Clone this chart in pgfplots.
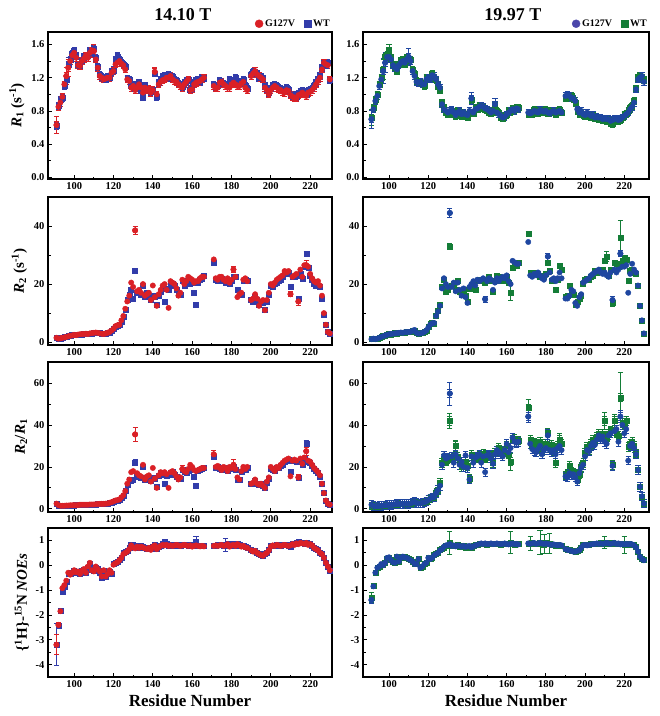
\documentclass[border=0pt]{standalone}
\usepackage{fontspec}
\setmainfont{Liberation Serif}
\usepackage{pgfplots}
\usepackage{pgfplotstable}
\pgfplotsset{compat=1.18}

\definecolor{cred}{RGB}{218,32,38}
\definecolor{cblueL}{RGB}{50,60,170}
\definecolor{cblueR}{RGB}{30,70,160}
\definecolor{cpurp}{RGB}{75,70,170}
\definecolor{cgreen}{RGB}{20,125,55}

% 14.10 T: a=R1, b=R2, c=R2/R1, d=NOE ; 1=G127V, 2=WT
\pgfplotstableread{
r a1 a2 b1 b2 c1 c2 d1 d2
91 0.63 0.62 1.5 1.6 2.5 2.4 -3.2 -3.2
92 0.85 0.86 1.2 1.3 1.8 1.7 -2.4 -2.45
93 0.90 0.93 1.3 1.2 1.5 1.5 -1.85 -1.85
94 0.97 0.96 1.5 1.4 1.5 1.5 -0.92 -1.08
95 1.12 1.10 1.6 1.7 1.5 1.6 -0.80 -0.85
96 1.22 1.18 1.8 1.7 1.6 1.6 -0.62 -0.65
97 1.32 1.36 2.0 2.1 1.6 1.6 -0.30 -0.32
98 1.40 1.42 2.2 2.1 1.7 1.6 -0.38 -0.35
99 1.47 1.49 2.3 2.4 1.7 1.7 -0.30 -0.28
100 1.50 1.53 2.5 2.4 1.8 1.7 -0.20 -0.22
101 1.44 1.46 2.4 2.5 1.7 1.8 -0.28 -0.25
102 1.35 1.36 2.6 2.5 1.8 1.8 -0.25 -0.30
103 1.34 1.35 2.7 2.6 2.0 1.9 -0.35 -0.33
104 1.40 1.41 2.8 2.7 2.0 2.0 -0.22 -0.20
105 1.43 1.45 2.8 2.9 2.0 2.0 -0.15 -0.17
106 1.47 1.46 2.9 2.8 2.0 2.0 -0.30 -0.28
107 1.44 1.47 2.8 2.9 2.0 1.9 -0.05 -0.08
108 1.50 1.52 3.0 2.9 2.1 2.0 0.10 0.05
109 1.53 1.50 3.1 3.0 2.1 2.1 -0.20 -0.18
110 1.52 1.55 3.2 3.1 2.1 2.1 -0.25 -0.22
111 1.42 1.44 3.3 3.2 2.2 2.2 -0.05 -0.08
112 1.32 1.33 3.2 3.3 2.3 2.3 -0.15 -0.12
113 1.22 1.24 3.0 3.1 2.4 2.4 -0.25 -0.28
114 1.20 1.21 2.9 2.8 2.4 2.4 -0.45 -0.50
115 1.18 1.19 2.8 2.9 2.4 2.4 -0.20 -0.22
116 1.19 1.18 3.0 2.9 2.5 2.5 -0.45 -0.48
117 1.20 1.21 3.2 3.1 2.6 2.6 -0.35 -0.30
118 1.20 1.20 3.5 3.4 2.9 2.8 -0.20 -0.25
119 1.26 1.27 4.0 3.9 3.2 3.1 -0.30 -0.33
120 1.28 1.29 4.6 4.5 3.6 3.5 0.02 0.05
121 1.36 1.42 5.5 5.4 4.0 3.8 0.08 0.10
122 1.38 1.45 5.8 5.6 4.2 3.9 0.12 0.15
123 1.40 1.42 6.0 5.9 4.5 4.2 0.20 0.22
124 1.37 1.38 7.5 7.2 5.5 5.2 0.30 0.32
125 1.35 1.36 9.0 8.8 6.5 6.5 0.45 0.50
126 1.30 1.33 11.5 11.3 8.5 8.5 0.50 0.55
127 1.18 1.19 14.0 14.5 12.0 11.5 0.55 0.60
128 1.16 1.18 16.0 16.2 14.0 14.0 0.65 0.70
129 1.08 1.10 20.5 18.0 17.5 13.5 0.80 0.82
130 1.10 1.12 19.0 15.0 18.0 14.0 0.72 0.78
131 1.05 1.07 38.5 24.5 35.5 22.0 0.68 0.80
132 1.08 1.10 17.5 17.0 17.0 16.5 0.75 0.78
133 1.12 1.14 18.0 17.5 16.0 15.5 0.70 0.72
134 1.08 1.05 17.0 16.5 15.5 15.0 0.75 0.78
135 1.02 0.97 20.0 19.5 21.0 20.0 0.72 0.74
136 1.08 1.10 16.0 15.5 14.0 14.0 0.68 0.70
137 1.05 1.06 16.5 17.0 15.5 15.0 0.65 0.68
138 1.07 1.05 17.0 16.0 16.0 15.0 0.70 0.72
139 1.02 1.03 14.5 14.5 13.0 13.5 0.62 0.65
140 1.05 1.06 19.5 16.0 19.5 15.0 0.75 0.76
141 1.27 1.25 15.5 15.5 14.5 14.5 0.80 0.82
142 1.00 0.97 12.5 13.0 10.0 10.5 0.65 0.68
143 1.12 1.14 16.5 16.0 16.0 16.0 0.72 0.75
144 1.15 1.18 18.0 17.5 17.5 17.0 0.78 0.80
145 1.17 1.21 19.5 18.5 17.0 16.5 0.82 0.85
146 1.18 1.22 20.0 14.0 17.5 12.0 0.80 0.95
147 1.20 1.21 18.0 18.5 16.5 16.0 0.82 0.85
148 1.20 1.23 11.8 18.0 10.0 16.5 0.78 0.80
149 1.22 1.19 21.0 20.5 17.5 17.0 0.80 0.82
150 1.18 1.21 20.5 20.0 18.0 17.5 0.78 0.80
151 1.16 1.18 20.0 19.5 17.0 16.5 0.80 0.80
152 1.15 1.16 18.5 18.0 15.5 15.5 0.82 0.83
153 1.12 1.13 16.0 16.5 14.0 14.5 0.80 0.82
154 1.10 1.12 17.0 16.5 15.0 14.5 0.78 0.80
155 1.08 1.09 21.5 21.0 19.0 18.5 0.80 0.82
156 1.12 1.14 20.0 19.5 18.0 17.5 0.82 0.84
157 1.15 1.16 21.0 20.5 17.5 17.0 0.80 0.82
158 1.18 1.17 22.5 21.5 19.0 18.0 0.78 0.80
159 1.05 1.06 22.0 20.0 21.0 18.5 0.80 0.82
160 1.06 1.08 21.5 20.5 20.0 19.0 0.75 0.78
161 1.12 1.14 20.5 17.0 18.5 15.5 0.78 0.80
162 1.14 1.16 21.0 13.0 18.0 11.0 0.80 0.95
163 1.15 1.18 21.0 20.5 18.5 18.0 0.78 0.80
164 1.16 1.15 22.0 21.5 19.0 18.5 0.76 0.78
165 1.18 1.20 22.5 22.0 19.5 19.0 0.78 0.80
166 1.20 1.19 22.5 23.0 19.5 19.5 0.76 0.78
171 1.10 1.12 28.5 27.5 26.0 25.0 0.78 0.80
172 1.07 1.09 22.0 21.5 20.0 19.5 0.80 0.80
173 1.08 1.10 21.5 21.0 20.5 20.0 0.78 0.82
174 1.14 1.16 22.5 22.0 19.5 19.0 0.80 0.82
175 1.15 1.14 22.5 22.0 18.5 18.5 0.82 0.84
176 1.12 1.13 21.5 21.0 20.0 19.5 0.78 0.80
177 1.10 1.12 21.0 20.5 19.5 19.0 0.80 0.82
178 1.08 1.10 22.0 21.0 18.0 18.0 0.85 0.86
179 1.08 1.18 20.5 20.0 20.0 19.5 0.75 0.78
180 1.12 1.14 21.5 21.0 19.5 19.0 0.80 0.82
181 1.14 1.16 25.0 22.5 21.0 20.0 0.82 0.85
182 1.12 1.20 22.5 22.5 19.0 18.5 0.78 0.80
183 1.10 1.12 15.5 18.0 15.0 14.0 0.85 0.86
184 1.10 1.13 16.5 16.5 14.0 14.0 0.80 0.82
185 1.13 1.15 17.0 16.5 18.0 17.5 0.75 0.78
186 1.15 1.18 21.5 21.0 20.0 19.5 0.78 0.80
187 1.08 1.10 22.0 21.5 19.0 18.5 0.72 0.75
188 1.05 1.07 21.0 21.0 20.0 19.5 0.70 0.72
190 1.22 1.24 14.5 14.5 12.0 12.0 0.60 0.62
191 1.25 1.27 15.0 14.0 12.5 12.0 0.55 0.58
192 1.28 1.26 16.5 15.5 14.0 13.5 0.58 0.60
193 1.24 1.25 15.0 14.5 12.0 12.0 0.50 0.52
194 1.22 1.20 12.5 13.0 11.5 11.5 0.45 0.48
195 1.20 1.21 14.0 13.5 12.0 12.0 0.40 0.42
196 1.18 1.19 14.5 13.5 11.0 11.0 0.38 0.40
197 1.08 1.10 11.0 11.0 10.0 10.0 0.45 0.48
198 1.05 1.06 14.5 14.0 13.0 12.5 0.50 0.52
199 1.00 1.02 17.0 16.5 15.0 14.5 0.60 0.62
200 1.05 1.07 20.0 19.5 20.0 19.0 0.75 0.78
201 1.08 1.10 19.5 19.0 19.0 18.5 0.80 0.80
202 1.10 1.12 20.5 20.0 18.0 18.0 0.78 0.80
203 1.08 1.10 21.5 20.5 20.0 19.5 0.82 0.84
204 1.06 1.08 22.0 21.0 19.5 19.5 0.80 0.82
205 1.05 1.07 22.5 21.5 21.0 20.5 0.78 0.80
206 1.03 1.05 23.0 22.5 22.0 21.0 0.80 0.82
207 1.02 1.04 24.5 24.0 23.0 22.5 0.82 0.84
208 1.05 1.08 24.0 23.5 23.5 23.0 0.80 0.82
209 1.04 1.06 24.5 24.0 24.0 23.5 0.78 0.80
210 0.99 1.00 16.5 19.0 15.5 17.5 0.80 0.75
211 0.97 0.98 22.5 22.5 23.0 23.0 0.85 0.86
212 0.96 0.99 23.0 22.5 23.5 23.0 0.82 0.85
213 0.95 0.97 23.5 23.0 23.0 22.5 0.88 0.90
214 0.99 1.01 14.0 15.0 15.0 15.0 0.85 0.95
215 1.00 1.03 25.0 23.5 24.0 23.5 0.90 0.92
216 1.02 1.04 22.5 22.0 21.5 21.0 0.88 0.90
217 1.00 1.02 26.5 26.0 24.5 24.0 0.86 0.88
218 0.98 1.00 26.5 30.5 27.5 31.0 0.90 0.90
219 1.02 1.04 26.0 25.5 23.0 22.5 0.82 0.85
220 1.03 1.06 23.5 23.0 22.5 22.0 0.85 0.88
221 1.05 1.07 22.0 21.5 21.0 20.5 0.80 0.78
222 1.08 1.10 21.0 20.0 19.5 19.0 0.70 0.72
223 1.12 1.14 20.5 19.5 18.5 18.0 0.65 0.68
224 1.16 1.18 21.0 19.5 17.5 17.0 0.60 0.62
225 1.20 1.22 19.5 19.0 16.0 15.5 0.50 0.52
226 1.30 1.32 16.0 15.0 12.0 12.0 0.45 0.45
227 1.38 1.37 10.0 9.5 7.5 7.5 0.30 0.30
228 1.36 1.35 6.0 6.0 4.0 4.0 0.10 0.10
229 1.35 1.38 3.5 3.5 2.5 2.5 -0.05 -0.05
230 1.18 1.17 3.0 3.0 2.0 2.0 -0.20 -0.20
}\tabL

% 19.97 T: e=R1, f=R2, g=R2/R1, h=NOE ; 1=G127V, 2=WT
\pgfplotstableread{
r e1 e2 f1 f2 g1 g2 h1 h2
91 0.70 0.72 1.0 1.2 2.0 1.8 -1.40 -1.30
92 0.82 0.84 1.2 1.1 1.5 1.6 -0.85 -0.82
93 0.92 0.93 1.0 1.1 1.2 1.3 -0.30 -0.28
94 0.98 1.00 1.2 1.3 1.3 1.2 -0.10 -0.08
95 1.10 1.12 1.5 1.6 1.4 1.5 -0.05 -0.05
96 1.18 1.20 1.8 1.9 1.5 1.6 0.05 0.04
97 1.28 1.30 2.0 2.1 1.6 1.6 0.00 0.02
98 1.38 1.45 2.3 2.2 1.7 1.6 0.10 0.12
99 1.45 1.48 2.5 2.6 1.8 1.8 0.30 0.28
100 1.45 1.52 2.7 2.8 2.0 1.9 0.32 0.30
101 1.42 1.44 2.8 2.7 1.9 2.0 0.20 0.22
102 1.35 1.36 2.9 3.0 2.0 2.1 0.12 0.14
103 1.32 1.33 3.0 3.1 2.2 2.2 0.10 0.12
104 1.30 1.28 3.1 3.0 2.3 2.2 0.35 0.33
105 1.35 1.36 3.2 3.3 2.3 2.4 0.15 0.16
106 1.38 1.40 3.3 3.4 2.4 2.3 0.30 0.32
107 1.40 1.42 3.2 3.3 2.3 2.4 0.35 0.36
108 1.38 1.36 3.4 3.3 2.5 2.4 0.32 0.33
109 1.42 1.44 3.5 3.6 2.5 2.6 0.30 0.30
110 1.45 1.40 3.5 3.5 2.4 2.5 0.25 0.26
111 1.40 1.42 3.6 3.7 2.6 2.6 0.20 0.22
112 1.28 1.30 3.9 3.8 3.0 2.9 0.15 0.16
113 1.22 1.25 4.2 4.0 3.4 3.3 0.05 0.06
114 1.15 1.16 3.2 3.3 2.8 2.9 0.05 0.07
115 1.14 1.15 2.9 3.0 2.6 2.7 0.25 0.26
116 1.15 1.14 3.0 3.1 2.6 2.7 -0.10 -0.08
117 1.12 1.13 3.2 3.4 2.9 2.9 -0.05 -0.04
118 1.12 1.10 3.5 3.6 3.1 3.2 0.05 0.06
119 1.18 1.20 4.0 4.1 3.5 3.6 0.10 0.12
120 1.20 1.19 5.0 5.2 4.2 4.3 0.30 0.32
121 1.18 1.20 6.0 6.2 5.0 5.1 0.25 0.27
122 1.23 1.25 6.5 6.6 5.5 5.4 0.30 0.32
123 1.22 1.20 6.6 6.5 5.6 5.5 0.40 0.42
124 1.18 1.17 9.0 9.2 7.5 7.8 0.45 0.47
125 1.12 1.10 10.5 10.8 9.0 9.2 0.50 0.52
126 1.08 1.05 12.5 13.0 11.0 12.5 0.60 0.62
127 0.88 0.90 18.5 19.0 21.0 22.0 0.65 0.68
128 0.82 0.84 22.0 21.5 25.5 24.0 0.75 0.72
129 0.80 0.78 20.0 17.5 24.0 22.5 0.80 0.78
130 0.78 0.76 19.0 18.0 24.5 23.5 0.82 0.80
131 0.80 0.78 44.5 33.0 55.0 42.0 0.85 0.90
132 0.82 0.80 19.0 19.5 25.0 24.0 0.78 0.80
133 0.78 0.76 20.5 20.0 22.0 24.5 0.80 0.78
134 0.75 0.74 17.5 18.0 26.0 30.0 0.76 0.78
135 0.78 0.80 20.5 21.0 24.0 25.0 0.80 0.82
136 0.80 0.79 18.0 17.5 21.0 22.5 0.78 0.76
137 0.76 0.74 16.0 16.5 22.5 20.0 0.75 0.74
138 0.78 0.77 18.5 18.0 20.0 21.0 0.78 0.80
139 0.76 0.74 15.5 16.0 25.5 22.5 0.74 0.72
140 0.75 0.72 13.5 14.0 19.5 20.5 0.76 0.74
141 0.80 0.78 19.0 18.5 14.0 14.5 0.78 0.76
142 0.95 0.93 20.0 19.5 25.0 26.0 0.72 0.70
143 0.78 0.77 21.0 20.5 22.0 23.5 0.76 0.78
144 0.82 0.84 19.5 18.0 24.5 25.0 0.80 0.82
145 0.83 0.82 21.5 21.0 25.0 24.0 0.82 0.84
146 0.85 0.86 21.0 21.5 26.0 25.5 0.85 0.86
147 0.86 0.85 21.5 21.0 22.0 24.0 0.88 0.86
148 0.85 0.84 22.0 21.5 25.0 26.5 0.86 0.88
149 0.83 0.82 14.8 20.5 17.5 24.0 0.88 0.86
150 0.82 0.81 21.0 21.5 25.5 26.0 0.85 0.84
151 0.80 0.79 22.0 22.5 26.0 25.0 0.86 0.88
152 0.78 0.77 21.5 21.0 24.0 25.5 0.88 0.86
153 0.80 0.78 18.0 17.5 21.5 22.0 0.85 0.86
154 0.88 0.86 20.5 21.0 26.0 27.0 0.86 0.88
155 0.78 0.80 22.0 23.0 28.0 27.0 0.88 0.86
156 0.76 0.78 21.0 22.5 27.0 29.0 0.86 0.88
157 0.74 0.72 22.0 21.0 26.0 28.0 0.85 0.84
158 0.72 0.71 22.5 21.5 25.0 27.5 0.86 0.88
159 0.73 0.74 22.0 21.0 28.0 27.0 0.88 0.86
160 0.76 0.75 23.0 22.5 31.0 30.0 0.85 0.86
161 0.78 0.80 21.0 20.5 27.0 26.0 0.84 0.88
162 0.80 0.79 20.0 17.0 29.0 22.5 0.86 0.92
163 0.82 0.83 28.0 25.5 34.0 33.0 0.88 0.86
164 0.80 0.81 27.5 27.0 32.0 33.5 0.85 0.84
165 0.83 0.84 27.0 26.5 31.5 32.0 0.86 0.85
166 0.82 0.84 27.0 27.5 32.0 32.5 0.84 0.86
171 0.78 0.76 34.5 37.5 44.0 48.0 0.88 0.86
172 0.77 0.78 23.0 24.0 31.0 33.0 0.86 0.88
173 0.78 0.76 22.5 23.5 28.5 30.0 0.88 0.90
174 0.80 0.82 23.5 24.0 27.5 31.5 0.90 0.88
175 0.79 0.78 23.0 24.0 27.0 30.0 0.86 0.88
176 0.78 0.77 24.0 23.5 28.5 31.0 0.88 0.86
177 0.81 0.82 23.0 22.5 30.0 32.0 0.90 0.92
178 0.80 0.80 22.0 23.0 26.0 27.5 0.88 0.86
179 0.79 0.78 21.5 22.5 28.0 30.0 0.86 0.84
180 0.80 0.82 23.0 23.5 29.0 31.0 0.88 0.90
181 0.78 0.77 29.5 27.5 35.0 36.5 0.86 0.88
182 0.77 0.78 24.0 24.5 28.0 29.0 0.84 0.86
183 0.79 0.80 21.5 21.0 27.0 30.5 0.82 0.84
184 0.80 0.79 22.0 21.5 28.0 27.5 0.84 0.82
185 0.78 0.76 21.0 18.0 26.0 22.0 0.82 0.80
186 0.79 0.80 22.0 21.5 29.0 30.0 0.80 0.82
187 0.80 0.82 24.0 26.5 30.0 33.0 0.82 0.80
188 0.78 0.78 22.0 25.0 28.0 31.0 0.80 0.78
190 0.98 0.96 15.0 15.5 15.5 16.0 0.65 0.66
191 1.00 0.98 15.0 16.0 15.0 17.0 0.62 0.64
192 0.98 0.96 16.0 19.5 17.0 20.5 0.60 0.62
193 0.96 0.98 18.0 17.5 16.0 18.0 0.58 0.60
194 0.95 0.94 17.5 16.5 16.5 17.5 0.55 0.57
195 0.92 0.90 13.5 13.0 15.0 16.0 0.55 0.56
196 0.82 0.80 12.5 14.0 13.0 14.0 0.58 0.60
197 0.78 0.76 15.5 15.0 17.0 16.5 0.60 0.62
198 0.80 0.78 16.5 16.0 19.5 20.0 0.70 0.72
199 0.76 0.75 20.5 20.0 21.0 22.0 0.80 0.82
200 0.75 0.74 21.0 21.5 25.0 27.0 0.82 0.84
201 0.78 0.76 21.5 22.0 28.0 29.5 0.80 0.82
202 0.76 0.75 22.0 21.5 27.5 28.0 0.82 0.84
203 0.74 0.73 23.0 22.5 30.0 31.0 0.84 0.86
204 0.75 0.74 23.5 23.0 31.5 33.0 0.85 0.86
205 0.72 0.71 24.0 24.5 30.5 32.0 0.86 0.88
206 0.73 0.72 24.5 24.0 33.0 34.5 0.88 0.86
207 0.72 0.70 25.0 24.5 35.0 36.0 0.86 0.88
208 0.72 0.71 24.0 24.5 33.0 34.0 0.88 0.90
209 0.70 0.69 23.5 25.0 34.5 36.0 0.86 0.88
210 0.71 0.70 24.0 28.0 32.0 42.0 0.88 0.92
211 0.70 0.68 23.0 29.5 31.0 33.5 0.90 0.88
212 0.70 0.69 22.5 23.0 35.0 36.0 0.88 0.90
213 0.68 0.65 24.0 25.0 36.0 37.5 0.86 0.88
214 0.69 0.64 14.5 13.5 20.5 21.0 0.88 0.90
215 0.70 0.68 25.0 27.5 37.0 42.0 0.90 0.88
216 0.71 0.70 24.0 27.0 38.0 36.0 0.86 0.88
217 0.69 0.68 25.0 26.0 32.0 35.0 0.88 0.86
218 0.70 0.69 30.5 36.0 44.0 53.0 0.84 0.86
219 0.72 0.72 26.0 28.0 40.0 41.0 0.86 0.88
220 0.74 0.75 26.0 29.0 36.0 39.0 0.84 0.82
221 0.76 0.77 26.5 28.5 38.0 42.0 0.86 0.88
222 0.78 0.80 17.0 21.0 23.0 29.5 0.84 0.86
223 0.82 0.84 23.5 24.5 30.0 31.0 0.86 0.84
224 0.85 0.86 27.0 25.0 31.0 32.0 0.84 0.82
225 0.90 0.92 25.0 24.0 29.0 30.0 0.80 0.82
226 1.06 1.07 24.0 23.5 26.0 26.5 0.72 0.74
227 1.18 1.20 19.5 19.5 18.5 18.5 0.55 0.56
228 1.20 1.22 12.5 12.5 10.5 10.5 0.35 0.36
229 1.22 1.20 7.5 7.5 6.0 6.0 0.25 0.26
230 1.15 1.17 3.0 3.0 2.5 2.5 0.20 0.22
}\tabR

\pgfplotsset{
  panel/.style={
    scale only axis, anchor=north west,
    xmin=86.7, xtick={100,120,...,220}, minor x tick num=1,
    tick align=inside, xtick pos=bottom, ytick pos=left,
    axis line style={line width=1.2pt},
    every tick/.style={black, line width=0.8pt},
    major tick length=4pt, minor tick length=2.5pt,
    tick label style={font=\bfseries\fontsize{10.5}{12}\selectfont},
    /pgf/number format/assume math mode=true,
    ylabel style={font=\bfseries\fontsize{15}{17}\selectfont},
    xlabel style={font=\bfseries\fontsize{17}{19}\selectfont},
    legend style={at={(1,1)}, anchor=south east, draw=none, fill=none,
      legend columns=2, inner sep=0pt, yshift=2pt,
      font=\bfseries\fontsize{10}{11}\selectfont,
      /tikz/every even column/.append style={column sep=7pt}},
  },
  pL/.style={panel, width=284pt, xmax=231.1},
  pR/.style={panel, width=286pt, xmax=232.6},
  sty/.style 2 args={only marks, mark=#1, color=#2, forget plot},
  gsL/.style={sty={*}{cred}, mark size=2.7pt},
  wsL/.style={sty={square*}{cblueL}, mark size=2.5pt},
  gsR/.style={sty={*}{cblueR}, mark size=2.7pt},
  wsR/.style={sty={square*}{cgreen}, mark size=2.5pt},
  ebc/.style={error bars/y dir=both,
    error bars/error bar style={line width=0.8pt},
    error bars/error mark options={rotate=90, mark size=2.6pt, line width=0.8pt}},
  ebf/.style={ebc, error bars/y fixed=#1},
  ebx/.style={ebc, error bars/y explicit},
}

\begin{document}
\begin{tikzpicture}
\useasboundingbox (0,0) rectangle (660pt,-716pt);
\node[font=\bfseries\fontsize{18}{20}\selectfont] at (183pt,-15pt) {14.10 T};
\node[font=\bfseries\fontsize{18}{20}\selectfont] at (513pt,-15pt) {19.97 T};

% ---------- 14.10 T ----------
\begin{axis}[pL, at={(48pt,-32pt)}, height=147pt, ymin=-0.02, ymax=1.75,
  ytick={0,0.4,0.8,1.2,1.6}, minor y tick num=1,
  yticklabel style={/pgf/number format/.cd, fixed, fixed zerofill, precision=1},
  ylabel={\textit{R}\textsubscript{1} (s\textsuperscript{-1})}]
\addlegendimage{only marks, mark=*, mark size=4pt, color=cred}
\addlegendentry{G127V}
\addlegendimage{only marks, mark=square*, mark size=3.5pt, color=cblueL}
\addlegendentry{WT}
\addplot[wsL, ebf=0.04] table[x=r, y=a2] {\tabL};
\addplot[wsL, ebx] table[x=x, y=y, y error=e, row sep=\\] {x y e\\ 97 1.36 0.08\\ 122 1.45 0.05\\};
\addplot[gsL, ebf=0.04] table[x=r, y=a1] {\tabL};
\addplot[gsL, ebx] table[x=x, y=y, y error=e, row sep=\\] {x y e\\ 91 0.63 0.10\\ 96 1.22 0.10\\ 97 1.32 0.10\\ 110 1.52 0.08\\ 141 1.27 0.05\\};
\end{axis}

\begin{axis}[pL, at={(48pt,-197pt)}, height=148pt, ymin=-1, ymax=50,
  ytick={0,20,40}, minor y tick num=1,
  ylabel={\textit{R}\textsubscript{2} (s\textsuperscript{-1})}]
\addplot[wsL] table[x=r, y=b2] {\tabL};
\addplot[wsL, ebx] table[x=x, y=y, y error=e, row sep=\\] {x y e\\ 131 24.5 0.8\\ 218 30.5 0.8\\ 162 13.0 0.6\\};
\addplot[gsL] table[x=r, y=b1] {\tabL};
\addplot[gsL, ebx] table[x=x, y=y, y error=e, row sep=\\] {x y e\\ 131 38.5 1.5\\ 181 25.0 1.0\\ 210 16.5 0.8\\ 214 14.0 1.2\\ 218 26.5 1.5\\};
\end{axis}

\begin{axis}[pL, at={(48pt,-362pt)}, height=150pt, ymin=-1.5, ymax=70,
  ytick={0,20,40,60}, minor y tick num=1,
  ylabel={\textit{R}\textsubscript{2}/\textit{R}\textsubscript{1}}]
\addplot[wsL] table[x=r, y=c2] {\tabL};
\addplot[wsL, ebx] table[x=x, y=y, y error=e, row sep=\\] {x y e\\ 131 22.0 1.5\\ 218 31.0 1.5\\};
\addplot[gsL] table[x=r, y=c1] {\tabL};
\addplot[gsL, ebx] table[x=x, y=y, y error=e, row sep=\\] {x y e\\ 131 35.5 3.5\\ 181 21.0 2.5\\ 155 19.0 1.8\\ 171 26.0 2.0\\ 214 15.0 1.5\\ 218 27.5 2.0\\};
\end{axis}

\begin{axis}[pL, at={(48pt,-528pt)}, height=149pt, ymin=-4.5, ymax=1.5,
  ytick={-4,-3,-2,-1,0,1}, minor y tick num=1,
  ylabel={\{\textsuperscript{1}H\}-\textsuperscript{15}N \textit{NOEs}},
  xlabel={Residue Number}]
\addplot[wsL] table[x=r, y=d2] {\tabL};
\addplot[wsL, ebx] table[x=x, y=y, y error=e, row sep=\\] {x y e\\ 91 -3.2 0.85\\ 162 0.95 0.2\\ 177 0.82 0.25\\ 130 0.78 0.15\\};
\addplot[gsL] table[x=r, y=d1] {\tabL};
\addplot[gsL, ebx] table[x=x, y=y, y error=e, row sep=\\] {x y e\\ 91 -3.2 0.40\\ 92 -2.4 0.1\\};
\end{axis}

% ---------- 19.97 T ----------
\begin{axis}[pR, at={(363pt,-32pt)}, height=147pt, ymin=-0.02, ymax=1.75,
  ytick={0,0.4,0.8,1.2,1.6}, minor y tick num=1,
  yticklabel style={/pgf/number format/.cd, fixed, fixed zerofill, precision=1}]
\addlegendimage{only marks, mark=*, mark size=4pt, color=cpurp}
\addlegendentry{G127V}
\addlegendimage{only marks, mark=square*, mark size=3.5pt, color=cgreen}
\addlegendentry{WT}
\addplot[wsR, ebf=0.04] table[x=r, y=e2] {\tabR};
\addplot[wsR, ebx] table[x=x, y=y, y error=e, row sep=\\] {x y e\\ 91 0.72 0.10\\ 100 1.52 0.08\\ 97 1.30 0.12\\};
\addplot[gsR, ebf=0.04] table[x=r, y=e1] {\tabR};
\addplot[gsR, ebx] table[x=x, y=y, y error=e, row sep=\\] {x y e\\ 91 0.70 0.11\\ 97 1.28 0.15\\ 98 1.38 0.12\\ 110 1.45 0.10\\ 142 0.95 0.07\\ 154 0.88 0.07\\};
\end{axis}

\begin{axis}[pR, at={(363pt,-197pt)}, height=148pt, ymin=-1, ymax=50,
  ytick={0,20,40}, minor y tick num=1]
\addplot[wsR] table[x=r, y=f2] {\tabR};
\addplot[wsR, ebx] table[x=x, y=y, y error=e, row sep=\\] {x y e\\ 131 33.0 1.0\\ 162 17.0 2.5\\ 218 36.0 6.0\\ 211 29.5 1.8\\ 214 13.5 1.2\\ 171 37.5 0.8\\};
\addplot[gsR] table[x=r, y=f1] {\tabR};
\addplot[gsR, ebx] table[x=x, y=y, y error=e, row sep=\\] {x y e\\ 131 44.5 1.5\\ 181 29.5 1.2\\ 149 14.8 1.0\\ 214 14.5 1.2\\ 218 30.5 1.0\\};
\end{axis}

\begin{axis}[pR, at={(363pt,-362pt)}, height=150pt, ymin=-1.5, ymax=70,
  ytick={0,20,40,60}, minor y tick num=1]
\addplot[wsR, ebf=2.0] table[x=r, y=g2] {\tabR};
\addplot[wsR, ebx] table[x=x, y=y, y error=e, row sep=\\] {x y e\\ 131 42.0 3.5\\ 171 48.0 4.0\\ 218 53.0 12.0\\ 210 42.0 4.0\\ 215 42.0 3.0\\ 162 22.5 4.0\\ 134 30.0 2.5\\ 187 33.0 3.0\\};
\addplot[gsR, ebf=2.0] table[x=r, y=g1] {\tabR};
\addplot[gsR, ebx] table[x=x, y=y, y error=e, row sep=\\] {x y e\\ 131 55.0 5.5\\ 171 44.0 3.0\\ 218 44.0 3.0\\ 181 35.0 3.0\\};
\end{axis}

\begin{axis}[pR, at={(363pt,-528pt)}, height=149pt, ymin=-4.5, ymax=1.5,
  ytick={-4,-3,-2,-1,0,1}, minor y tick num=1,
  xlabel={Residue Number}]
\addplot[wsR] table[x=r, y=h2] {\tabR};
\addplot[wsR, ebx] table[x=x, y=y, y error=e, row sep=\\] {x y e\\ 91 -1.3 0.2\\ 131 0.90 0.45\\ 162 0.92 0.45\\ 177 0.92 0.5\\ 179 0.86 0.4\\ 182 0.88 0.4\\ 220 0.82 0.35\\ 210 0.92 0.25\\ 172 0.88 0.3\\};
\addplot[gsR] table[x=r, y=h1] {\tabR};
\addplot[gsR, ebx] table[x=x, y=y, y error=e, row sep=\\] {x y e\\ 91 -1.4 0.12\\};
\end{axis}
\end{tikzpicture}
\end{document}
